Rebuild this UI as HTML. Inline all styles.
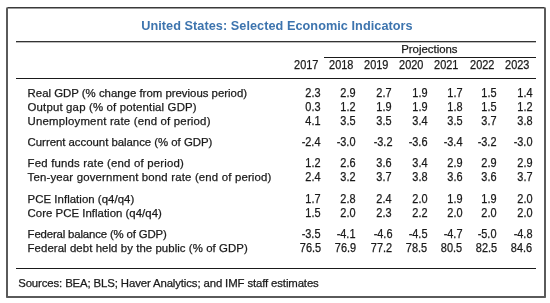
<!DOCTYPE html>
<html><head><meta charset="utf-8"><style>
html,body{margin:0;padding:0;background:#fff;}
body{width:550px;height:303px;position:relative;overflow:hidden;font-family:"Liberation Sans",sans-serif;}
.wrap{position:absolute;left:0;top:0;width:550px;height:303px;will-change:transform;}
.box{position:absolute;left:6px;top:7px;width:540px;height:291px;box-sizing:border-box;border:2px solid #5a5a5a;border-top:1px solid #3a3a3a;box-shadow:inset 0 1px 0 #9a9a9a;border-radius:1.5px;}
.ln{position:absolute;height:1px;background:#1a1a1a;}
.t{position:absolute;white-space:pre;font-size:11.4px;line-height:12px;color:#1a1a1a;-webkit-text-stroke:0.25px #1a1a1a;}
.n{font-size:11.9px;line-height:14px;letter-spacing:0px;transform:scaleX(0.92);transform-origin:100% 50%;}
.y{letter-spacing:-0.05px;}
.title{position:absolute;white-space:pre;font-size:12.7px;line-height:14px;font-weight:bold;color:#3d74ae;letter-spacing:0.05px;}
</style></head><body>
<div class="wrap">
<div class="box"></div>
<div class="ln" style="left:16px;top:41px;width:520px;background:#333"></div>
<div class="ln" style="left:16px;top:42px;width:520px;background:#bbb"></div>
<div class="ln" style="left:324px;top:57px;width:212px"></div>
<div class="ln" style="left:16px;top:78px;width:520px"></div>
<div class="ln" style="left:16px;top:268px;width:520px"></div>
<div class="title" style="left:141.20px;top:19.00px">United States: Selected Economic Indicators</div>
<div class="t" style="left:401.20px;top:43.00px">Projections</div>
<div class="t n y r" style="right:231.70px;top:58.00px">2017</div>
<div class="t n y r" style="right:196.80px;top:58.00px">2018</div>
<div class="t n y r" style="right:161.70px;top:58.00px">2019</div>
<div class="t n y r" style="right:126.30px;top:58.00px">2020</div>
<div class="t n y r" style="right:92.00px;top:58.00px">2021</div>
<div class="t n y r" style="right:55.80px;top:58.00px">2022</div>
<div class="t n y r" style="right:20.50px;top:58.00px">2023</div>
<div class="t" style="left:27.60px;top:87.00px;letter-spacing:0.000px">Real GDP (% change from previous period)</div>
<div class="t n r" style="right:229.20px;top:86.00px">2.3</div>
<div class="t n r" style="right:194.10px;top:86.00px">2.9</div>
<div class="t n r" style="right:158.00px;top:86.00px">2.7</div>
<div class="t n r" style="right:122.90px;top:86.00px">1.9</div>
<div class="t n r" style="right:87.90px;top:86.00px">1.7</div>
<div class="t n r" style="right:53.20px;top:86.00px">1.5</div>
<div class="t n r" style="right:17.50px;top:86.00px">1.4</div>
<div class="t" style="left:27.60px;top:101.00px;letter-spacing:0.167px">Output gap (% of potential GDP)</div>
<div class="t n r" style="right:229.20px;top:100.00px">0.3</div>
<div class="t n r" style="right:194.10px;top:100.00px">1.2</div>
<div class="t n r" style="right:158.00px;top:100.00px">1.9</div>
<div class="t n r" style="right:122.90px;top:100.00px">1.9</div>
<div class="t n r" style="right:87.90px;top:100.00px">1.8</div>
<div class="t n r" style="right:53.20px;top:100.00px">1.5</div>
<div class="t n r" style="right:17.50px;top:100.00px">1.2</div>
<div class="t" style="left:27.60px;top:115.00px;letter-spacing:0.194px">Unemployment rate (end of period)</div>
<div class="t n r" style="right:229.20px;top:114.00px">4.1</div>
<div class="t n r" style="right:194.10px;top:114.00px">3.5</div>
<div class="t n r" style="right:158.00px;top:114.00px">3.5</div>
<div class="t n r" style="right:122.90px;top:114.00px">3.4</div>
<div class="t n r" style="right:87.90px;top:114.00px">3.5</div>
<div class="t n r" style="right:53.20px;top:114.00px">3.7</div>
<div class="t n r" style="right:17.50px;top:114.00px">3.8</div>
<div class="t" style="left:27.60px;top:136.00px;letter-spacing:-0.024px">Current account balance (% of GDP)</div>
<div class="t n r" style="right:229.20px;top:135.00px">-2.4</div>
<div class="t n r" style="right:194.10px;top:135.00px">-3.0</div>
<div class="t n r" style="right:158.00px;top:135.00px">-3.2</div>
<div class="t n r" style="right:122.90px;top:135.00px">-3.6</div>
<div class="t n r" style="right:87.90px;top:135.00px">-3.4</div>
<div class="t n r" style="right:53.20px;top:135.00px">-3.2</div>
<div class="t n r" style="right:17.50px;top:135.00px">-3.0</div>
<div class="t" style="left:27.60px;top:157.00px;letter-spacing:0.190px">Fed funds rate (end of period)</div>
<div class="t n r" style="right:229.20px;top:156.00px">1.2</div>
<div class="t n r" style="right:194.10px;top:156.00px">2.6</div>
<div class="t n r" style="right:158.00px;top:156.00px">3.6</div>
<div class="t n r" style="right:122.90px;top:156.00px">3.4</div>
<div class="t n r" style="right:87.90px;top:156.00px">2.9</div>
<div class="t n r" style="right:53.20px;top:156.00px">2.9</div>
<div class="t n r" style="right:17.50px;top:156.00px">2.9</div>
<div class="t" style="left:27.60px;top:171.00px;letter-spacing:0.173px">Ten-year government bond rate (end of period)</div>
<div class="t n r" style="right:229.20px;top:170.00px">2.4</div>
<div class="t n r" style="right:194.10px;top:170.00px">3.2</div>
<div class="t n r" style="right:158.00px;top:170.00px">3.7</div>
<div class="t n r" style="right:122.90px;top:170.00px">3.8</div>
<div class="t n r" style="right:87.90px;top:170.00px">3.6</div>
<div class="t n r" style="right:53.20px;top:170.00px">3.6</div>
<div class="t n r" style="right:17.50px;top:170.00px">3.7</div>
<div class="t" style="left:27.60px;top:193.00px;letter-spacing:0.045px">PCE Inflation (q4/q4)</div>
<div class="t n r" style="right:229.20px;top:192.00px">1.7</div>
<div class="t n r" style="right:194.10px;top:192.00px">2.8</div>
<div class="t n r" style="right:158.00px;top:192.00px">2.4</div>
<div class="t n r" style="right:122.90px;top:192.00px">2.0</div>
<div class="t n r" style="right:87.90px;top:192.00px">1.9</div>
<div class="t n r" style="right:53.20px;top:192.00px">1.9</div>
<div class="t n r" style="right:17.50px;top:192.00px">2.0</div>
<div class="t" style="left:27.60px;top:207.00px;letter-spacing:0.024px">Core PCE Inflation (q4/q4)</div>
<div class="t n r" style="right:229.20px;top:206.00px">1.5</div>
<div class="t n r" style="right:194.10px;top:206.00px">2.0</div>
<div class="t n r" style="right:158.00px;top:206.00px">2.3</div>
<div class="t n r" style="right:122.90px;top:206.00px">2.2</div>
<div class="t n r" style="right:87.90px;top:206.00px">2.0</div>
<div class="t n r" style="right:53.20px;top:206.00px">2.0</div>
<div class="t n r" style="right:17.50px;top:206.00px">2.0</div>
<div class="t" style="left:27.60px;top:228.00px;letter-spacing:-0.160px">Federal balance (% of GDP)</div>
<div class="t n r" style="right:229.20px;top:227.00px">-3.5</div>
<div class="t n r" style="right:194.10px;top:227.00px">-4.1</div>
<div class="t n r" style="right:158.00px;top:227.00px">-4.6</div>
<div class="t n r" style="right:122.90px;top:227.00px">-4.5</div>
<div class="t n r" style="right:87.90px;top:227.00px">-4.7</div>
<div class="t n r" style="right:53.20px;top:227.00px">-5.0</div>
<div class="t n r" style="right:17.50px;top:227.00px">-4.8</div>
<div class="t" style="left:27.60px;top:242.00px;letter-spacing:0.073px">Federal debt held by the public (% of GDP)</div>
<div class="t n r" style="right:229.20px;top:241.00px">76.5</div>
<div class="t n r" style="right:194.10px;top:241.00px">76.9</div>
<div class="t n r" style="right:158.00px;top:241.00px">77.2</div>
<div class="t n r" style="right:122.90px;top:241.00px">78.5</div>
<div class="t n r" style="right:87.90px;top:241.00px">80.5</div>
<div class="t n r" style="right:53.20px;top:241.00px">82.5</div>
<div class="t n r" style="right:17.50px;top:241.00px">84.6</div>
<div class="t" style="left:18.20px;top:277.00px;letter-spacing:-0.129px">Sources: BEA; BLS; Haver Analytics; and IMF staff estimates</div>
</div>
</body></html>
